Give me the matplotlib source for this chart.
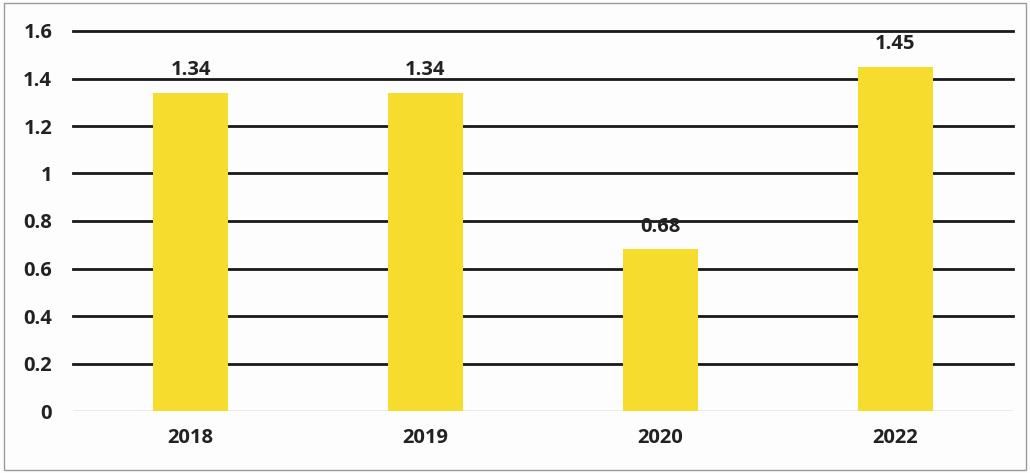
import matplotlib
matplotlib.use("Agg")
import matplotlib.pyplot as plt
from matplotlib.patches import Rectangle

years = ["2018", "2019", "2020", "2022"]
values = [1.34, 1.34, 0.68, 1.45]
yticks = [0, 0.2, 0.4, 0.6, 0.8, 1.0, 1.2, 1.4, 1.6]
ytick_labels = ["0", "0.2", "0.4", "0.6", "0.8", "1", "1.2", "1.4", "1.6"]

plt.rcParams['font.family'] = ['Open Sans', 'DejaVu Sans']

fig = plt.figure(figsize=(10.3, 4.73), dpi=100)
fig.patch.set_facecolor("#fdfdfd")
ax = fig.add_axes([73/1030, 62/473, (1013-73)/1030, (442-62)/473])
ax.set_facecolor("none")

x = list(range(len(years)))
bars = ax.bar(x, values, width=0.32, color="#F6DC2C", zorder=3)

ax.set_xlim(-0.5, len(years) - 0.5)
ax.set_ylim(0, 1.6)
for t in yticks[1:]:
    ax.axhline(t, color="#1a1a1a", lw=2.0, zorder=1, clip_on=False)
ax.axhline(0, color="#a0a0a0", lw=1.0, zorder=2)

fs = 14.5
ax.set_yticks(yticks)
ax.set_yticklabels(ytick_labels, fontsize=fs, fontweight="bold", color="#222222")
ax.set_xticks(x)
ax.set_xticklabels(years, fontsize=fs, fontweight="bold", color="#222222")
ax.tick_params(axis="both", length=0)
ax.tick_params(axis="x", pad=12)
ax.tick_params(axis="y", pad=15)
for s in ax.spines.values():
    s.set_visible(False)

for xi, v in zip(x, values):
    ax.annotate(f"{v:.2f}", (xi, v), xytext=(0, 9), textcoords="offset points",
                ha="center", va="bottom", fontsize=fs, fontweight="bold", color="#222222")

fig.add_artist(Rectangle((0.004, 0.006), 0.992, 0.988, transform=fig.transFigure,
                         fill=False, edgecolor="#9a9a9a", lw=1.0))

fig.savefig("out.png", dpi=100, facecolor=fig.get_facecolor())
